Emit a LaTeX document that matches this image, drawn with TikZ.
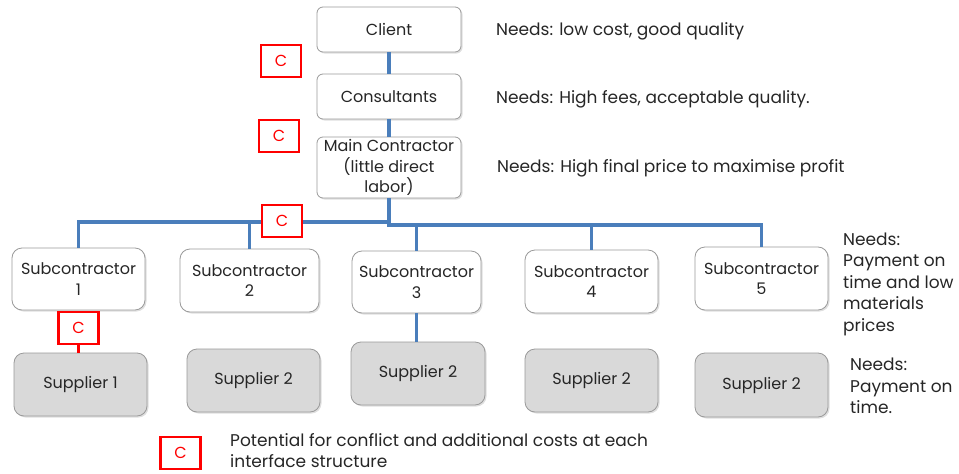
\documentclass[tikz,border=0pt]{standalone}
\usepackage{fontspec}
\setmainfont{Poppins}
\usetikzlibrary{shadows}
\definecolor{linkblue}{HTML}{4A7EBB}
\definecolor{boxgray}{HTML}{D9D9D9}
\definecolor{edgegray}{HTML}{9A9A9A}
\definecolor{confred}{HTML}{FF0000}
\definecolor{txt}{HTML}{262626}
\begin{document}
\begin{tikzpicture}[x=1pt,y=-1pt,
  every node/.style={font=\fontsize{16}{20.5}\selectfont, text=txt},
  party/.style={draw=edgegray, line width=0.8pt, fill=white, rounded corners=6pt,
    align=center, inner sep=1pt, drop shadow={shadow xshift=1.5pt, shadow yshift=-1.5pt, opacity=0.25}},
  subbox/.style={party, rounded corners=10pt},
  supbox/.style={subbox, fill=boxgray},
  cbox/.style={draw=confred, line width=2.8pt, fill=white, minimum width=40pt,
    minimum height=32pt, inner sep=0pt, text=confred},
  conn/.style={draw=linkblue, line width=3.2pt},
  needs/.style={anchor=west, align=left, inner sep=0pt, font=\fontsize{17}{21.5}\selectfont}
]
\useasboundingbox (0,0) rectangle (959,474);

% upper chain
\node[party, minimum width=144pt, minimum height=45pt] (client) at (389,29.5) {Client};
\node[party, minimum width=144pt, minimum height=45pt] (cons) at (389,96.5) {Consultants};
\node[party, minimum width=144pt, minimum height=61pt] (main) at (389,167.5)
  {Main Contractor\\(little direct\\labor)};

% subcontractors
\node[subbox, minimum width=133pt, minimum height=62pt] (s1) at (78.5,279) {Subcontractor\\1};
\node[subbox, minimum width=139pt, minimum height=63pt] (s2) at (249.5,280.5) {Subcontractor\\2};
\node[subbox, minimum width=129pt, minimum height=62pt] (s3) at (416.5,282) {Subcontractor\\3};
\node[subbox, minimum width=133pt, minimum height=63pt] (s4) at (591.5,281.5) {Subcontractor\\4};
\node[subbox, minimum width=133pt, minimum height=63pt] (s5) at (761.5,278.5) {Subcontractor\\5};

% suppliers
\node[supbox, minimum width=133pt, minimum height=63pt] (p1) at (80.5,384.5) {Supplier 1};
\node[supbox, minimum width=133pt, minimum height=63pt] (p2) at (253.5,380.5) {Supplier 2};
\node[supbox, minimum width=134pt, minimum height=63pt] (p3) at (418,373.5) {Supplier 2};
\node[supbox, minimum width=133pt, minimum height=63pt] (p4) at (591.5,380.5) {Supplier 2};
\node[supbox, minimum width=133pt, minimum height=64pt] (p5) at (761.5,385) {Supplier 2};

% blue connectors
\draw[conn] (client.south) -- (cons.north);
\draw[conn] (cons.south) -- (main.north);
\coordinate (busL) at (389,222);
\coordinate (busR) at (389,225);
\draw[conn] (main.south) -- (busL) -| (s1.north);
\draw[conn] (busL) -| (s2.north);
\draw[conn] (main.south) -- (busR) -| (s3.north);
\draw[conn] (busR) -| (s4.north);
\draw[conn] (busR) -| (s5.north);
\draw[conn] (s3.south) -- (s3.south |- p3.north);

% conflict markers
\node[cbox] (c1) at (281,61) {C};
\node[cbox] (c2) at (279,136) {C};
\node[cbox] (c3) at (282,221) {C};
\node[cbox] (c4) at (78.5,328) {C};
\draw[confred, line width=2.8pt] (c4.south) -- (c4.south |- p1.north);
\node[cbox] (cl) at (180.5,453) {C};

% needs
\node[needs] (n1) at (496,31) {Needs: low cost, good quality};
\node[needs] (n2) at (496,99) {Needs: High fees, acceptable quality.};
\node[needs] (n3) at (497,168) {Needs: High final price to maximise profit};
\node[needs] (n4) at (843,284) {Needs:\\Payment on\\time and low\\materials\\prices};
\node[needs] (n5) at (850,386) {Needs:\\Payment on\\time.};
\node[needs, anchor=north west] (legend) at (230,433)
  {Potential for conflict and additional costs at each\\interface structure};
\end{tikzpicture}
\end{document}
